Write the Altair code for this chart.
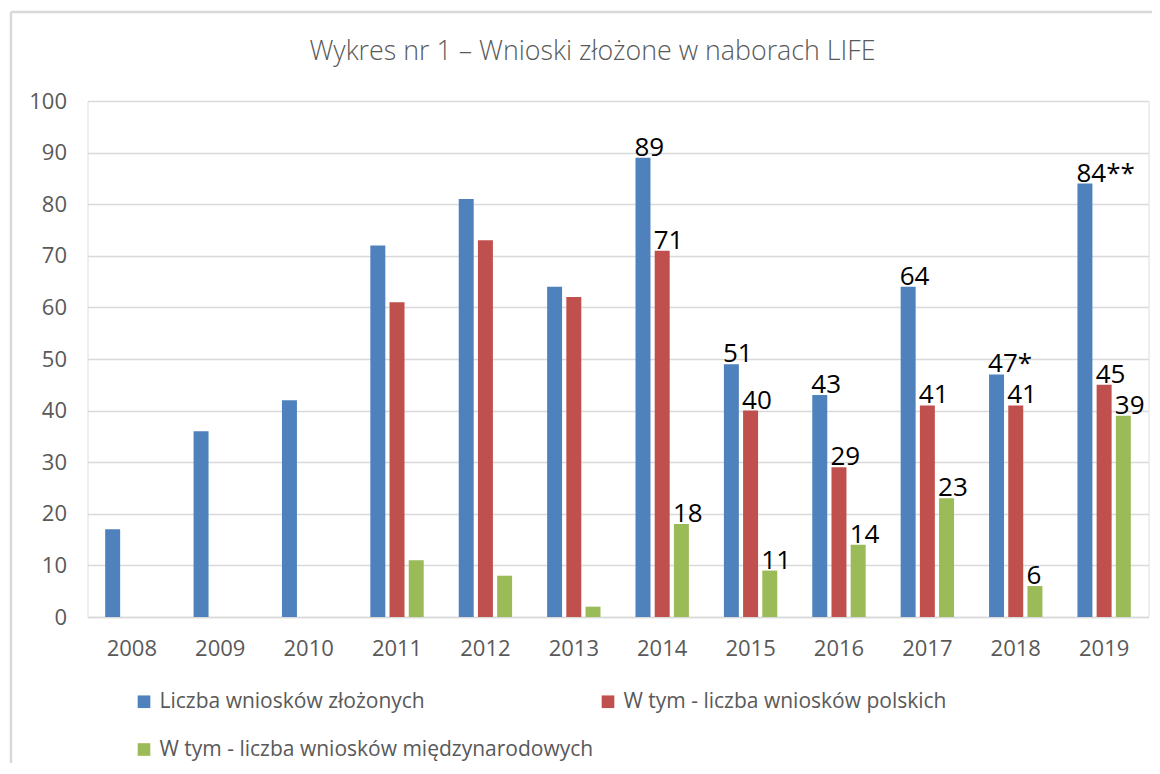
import altair as alt
import pandas as pd

years = ["2008", "2009", "2010", "2011", "2012", "2013", "2014", "2015", "2016", "2017", "2018", "2019"]
series = [
    "Liczba wniosków złożonych",
    "W tym - liczba wniosków polskich",
    "W tym - liczba wniosków międzynarodowych",
]
total = [17, 36, 42, 72, 81, 64, 89, 49, 43, 64, 47, 84]
polish = [None, None, None, 61, 73, 62, 71, 40, 29, 41, 41, 45]
intl = [None, None, None, 11, 8, 2, 18, 9, 14, 23, 6, 39]
total_labels = ["", "", "", "", "", "", "89", "51", "43", "64", "47*", "84**"]
polish_labels = ["", "", "", "", "", "", "71", "40", "29", "41", "41", "45"]
intl_labels = ["", "", "", "", "", "", "18", "11", "14", "23", "6", "39"]
colors = ["#4F81BD", "#C0504D", "#9BBB59"]
title_text = "Wykres nr 1 – Wnioski złożone w naborach LIFE"

rows = []
for name, vals, labs in zip(series, [total, polish, intl], [total_labels, polish_labels, intl_labels]):
    for y, v, l in zip(years, vals, labs):
        if v is not None:
            rows.append({"rok": y, "seria": name, "wartosc": v, "etykieta": l})
df = pd.DataFrame(rows)
one = pd.DataFrame({"t": [title_text]})

FONT = "Open Sans"
GRID = "#D9D9D9"
TXT = "#595959"

x_enc = alt.X("rok:N", sort=years, title=None,
              scale=alt.Scale(paddingInner=0.396),
              axis=alt.Axis(labelAngle=0, ticks=False, domainColor=GRID, domainWidth=1.5,
                            labelFont=FONT, labelFontSize=22, labelColor=TXT, labelPadding=21))
xo_enc = alt.XOffset("seria:N", scale=alt.Scale(domain=series, paddingInner=0.22, paddingOuter=0))
y_enc = alt.Y("wartosc:Q", title=None,
              scale=alt.Scale(domain=[0, 100], nice=False),
              axis=alt.Axis(values=list(range(0, 101, 10)), domain=False, ticks=False,
                            gridColor=GRID, gridWidth=1.5,
                            labelFont=FONT, labelFontSize=22, labelColor=TXT, labelPadding=21))

bars = alt.Chart(df).mark_bar().encode(
    x=x_enc,
    xOffset=xo_enc,
    y=y_enc,
    color=alt.Color("seria:N",
                    scale=alt.Scale(domain=series, range=colors),
                    legend=alt.Legend(title=None, orient="none", legendX=46, legendY=590,
                                      direction="horizontal", columns=2, columnPadding=4,
                                      rowPadding=26, symbolType="square", symbolSize=160,
                                      symbolStrokeWidth=0, labelFont=FONT, labelFontSize=21,
                                      labelColor=TXT, labelLimit=0, labelOffset=5)),
)

labels = alt.Chart(df).transform_filter(alt.datum.etykieta != "").mark_text(
    align="left", baseline="alphabetic", dx=-8.5, dy=-2,
    font=FONT, fontSize=26, color="#000000",
).encode(
    x=alt.X("rok:N", sort=years),
    xOffset=alt.XOffset("seria:N", scale=alt.Scale(domain=series)),
    y=alt.Y("wartosc:Q"),
    text="etykieta:N",
)

title = alt.Chart(one).mark_text(
    align="center", baseline="middle", font=FONT, fontSize=26.8, fontWeight=300, color=TXT,
).encode(text="t:N", x=alt.value(505), y=alt.value(-49))

left_border = alt.Chart(one).mark_rule(color=GRID, strokeWidth=2.5).encode(
    x=alt.value(-76.5), y=alt.value(-89), y2=alt.value(670))
top_border = alt.Chart(one).mark_rule(color=GRID, strokeWidth=2.5).encode(
    x=alt.value(-76.5), x2=alt.value(1075), y=alt.value(-89))

chart = alt.layer(bars, labels, title, left_border, top_border).properties(
    width=1061, height=516,
    autosize=alt.AutoSizeParams(type="none"),
    padding={"left": 79.5, "top": 93, "right": 3.5, "bottom": 146},
).configure_view(stroke=None).configure(background="white")

chart.save("out.html", embed_options={"renderer": "svg", "actions": False})
